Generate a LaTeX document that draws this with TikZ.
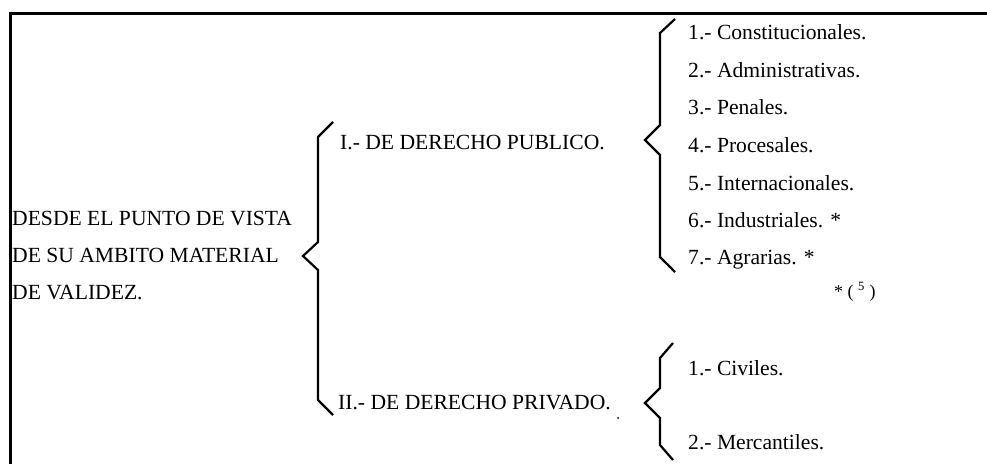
\documentclass[tikz,border=0pt]{standalone}
\usepackage{fontspec}
\setmainfont{Liberation Serif}
\begin{document}
\begin{tikzpicture}[x=1pt,y=-1pt,
  txt/.style={anchor=base west,inner sep=0pt,font=\fontsize{21.6}{24}\selectfont},
  frame/.style={line width=3pt},
  brace/.style={line width=2.2pt,line join=miter}]
\useasboundingbox (0,0) rectangle (987,464);
% frame
\draw[frame] (10,464) -- (10,13) -- (987,13);
% left text
\node[txt] (l1) at (12,225) {DESDE EL PUNTO DE VISTA};
\node[txt] (l2) at (12,262) {DE SU AMBITO MATERIAL};
\node[txt] (l3) at (12,299) {DE VALIDEZ.};
% main brace
\draw[brace] (333,122) -- (318,137) -- (318,242) -- (303,256) -- (318,270) -- (318,400) -- (333,415);
\node[txt] (pub) at (340,149) {I.- DE DERECHO PUBLICO.};
\node[txt] (priv) at (338,409) {II.- DE DERECHO PRIVADO.};
\fill (618,418) circle (1pt);
% brace 1
\draw[brace] (675,19) -- (660,33) -- (660,125) -- (645,140) -- (660,155) -- (660,257) -- (675,272);
\node[txt] (a1) at (688,39) {1.- Constitucionales.};
\node[txt] (a2) at (688,77) {2.- Administrativas.};
\node[txt] (a3) at (688,114) {3.- Penales.};
\node[txt] (a4) at (688,152) {4.- Procesales.};
\node[txt] (a5) at (688,190) {5.- Internacionales.};
\node[txt] (a6) at (688,227) {6.- Industriales. *};
\node[txt] (a7) at (688,264) {7.- Agrarias. *};
\node[txt,font=\fontsize{18}{20}\selectfont] (fn) at (834,297) {* ( \textsuperscript{5} )};
% brace 2
\draw[brace] (673,343) -- (660,358) -- (660,388) -- (645,403) -- (660,418) -- (660,445) -- (673,460);
\node[txt] (b1) at (688,375) {1.- Civiles.};
\node[txt] (b2) at (688,449) {2.- Mercantiles.};
\end{tikzpicture}
\end{document}
